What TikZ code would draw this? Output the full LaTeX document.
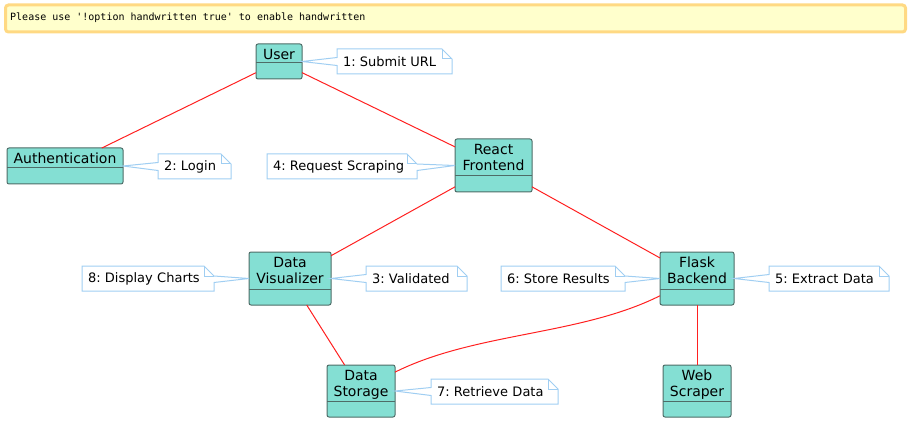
\documentclass[tikz,border=0pt]{standalone}
\usepackage{fontspec}
\setmainfont{DejaVu Sans}
\setmonofont{DejaVu Sans Mono}
\usepackage{xcolor}
\usepackage{tikz}
\frenchspacing

\definecolor{objfill}{HTML}{84DFD3}
\definecolor{objline}{HTML}{4E6C67}
\definecolor{notebd}{HTML}{A0CEF2}
\definecolor{linkred}{HTML}{FF2020}
\definecolor{warnfill}{HTML}{FFFFCC}
\definecolor{warnline}{HTML}{FFD983}

\tikzset{
    obj/.style={draw=objline, fill=objfill, rounded corners=2pt, line width=1pt, inner sep=0pt, outer sep=0pt},
    objname/.style={anchor=north, inner xsep=0pt, inner ysep=5pt, align=center, font=\fontsize{14}{16}\selectfont},
    note/.style={inner xsep=6pt, inner ysep=0pt, minimum height=25pt, outer sep=0pt, align=left, font=\fontsize{13}{15}\selectfont},
    notebox/.style={draw=notebd, line width=1pt},
    link/.style={draw=linkred, line width=1pt}
}

\begin{document}
\begin{tikzpicture}[x=1pt, y=-1pt]
    \useasboundingbox (0,0) rectangle (910,422);

    % Draw the warning banner
    \draw[warnline, fill=warnfill, line width=3pt, rounded corners=3pt] (5.5,5) rectangle (905.5,32);
    \node[anchor=base west, inner sep=0pt, font=\ttfamily\fontsize{10}{12}\selectfont] (banner) at (10,20.5) {Please use '!option handwritten true' to enable handwritten};

    % Draw the objects
    \node[obj, minimum width=46pt, minimum height=35pt] (user) at (279,61.5) {};
    \node[obj, minimum width=116pt, minimum height=36pt] (auth) at (65,166) {};
    \node[obj, minimum width=77pt, minimum height=53pt] (react) at (493.5,165.5) {};
    \node[obj, minimum width=82pt, minimum height=53pt] (vis) at (290,278.5) {};
    \node[obj, minimum width=74pt, minimum height=53pt] (flask) at (697,278.5) {};
    \node[obj, minimum width=68pt, minimum height=52pt] (store) at (361,391) {};
    \node[obj, minimum width=68pt, minimum height=52pt] (scraper) at (697,391) {};

    % Lower compartments
    \foreach \o in {user,auth,react,vis,flask,store,scraper}
        \draw[objline, line width=1pt] ([yshift=16pt]\o.south west) -- ([yshift=16pt]\o.south east);

    % Object names
    \node[objname] (username) at (user.north) {User};
    \node[objname] (authname) at (auth.north) {Authentication};
    \node[objname] (reactname) at (react.north) {React\\Frontend};
    \node[objname] (visname) at (vis.north) {Data\\Visualizer};
    \node[objname] (flaskname) at (flask.north) {Flask\\Backend};
    \node[objname] (storename) at (store.north) {Data\\Storage};
    \node[objname] (scrapername) at (scraper.north) {Web\\Scraper};

    % Links
    \draw[link] (user) -- (auth);
    \draw[link] (user) -- (react);
    \draw[link] (react) -- (vis);
    \draw[link] (react) -- (flask);
    \draw[link] (vis) -- (store);
    \draw[link] (flask.205) .. controls +(-80,40) and +(80,-40) .. (store.29);
    \draw[link] (flask) -- (scraper);

    % Notes
    \node[note, text width=103pt] (n1) at (394.5,61.5) {1: Submit URL};
    \node[note, text width=61pt] (n2) at (194.5,166.5) {2: Login};
    \node[note, text width=89pt] (n3) at (416.5,278.5) {3: Validated};
    \node[note, text width=138pt] (n4) at (342,166.5) {4: Request Scraping};
    \node[note, text width=108pt] (n5) at (829,278.5) {5: Extract Data};
    \node[note, text width=112pt] (n6) at (563,278.5) {6: Store Results};
    \node[note, text width=115pt] (n7) at (494.5,391.5) {7: Retrieve Data};
    \node[note, text width=120pt] (n8) at (148,278.5) {8: Display Charts};

    % Notes pointing left
    \foreach \n/\t in {n1/user, n2/auth, n3/vis, n5/flask, n7/store} {
        \draw[notebox] (\n.north west) -- ([xshift=-10pt]\n.north east) -- ([yshift=-10pt]\n.north east) -- (\n.south east) -- (\n.south west) -- ([yshift=-4pt]\n.west) -- (\t.east) -- ([yshift=4pt]\n.west) -- cycle;
        \draw[notebox] ([xshift=-10pt]\n.north east) |- ([yshift=-10pt]\n.north east);
    }

    % Notes pointing right
    \foreach \n/\t in {n4/react, n6/flask, n8/vis} {
        \draw[notebox] (\n.north west) -- ([xshift=-10pt]\n.north east) -- ([yshift=-10pt]\n.north east) -- (\t.west) -- ([yshift=-4pt]\n.east) -- (\n.south east) -- (\n.south west) -- cycle;
        \draw[notebox] ([xshift=-10pt]\n.north east) |- ([yshift=-10pt]\n.north east);
    }

\end{tikzpicture}
\end{document}
